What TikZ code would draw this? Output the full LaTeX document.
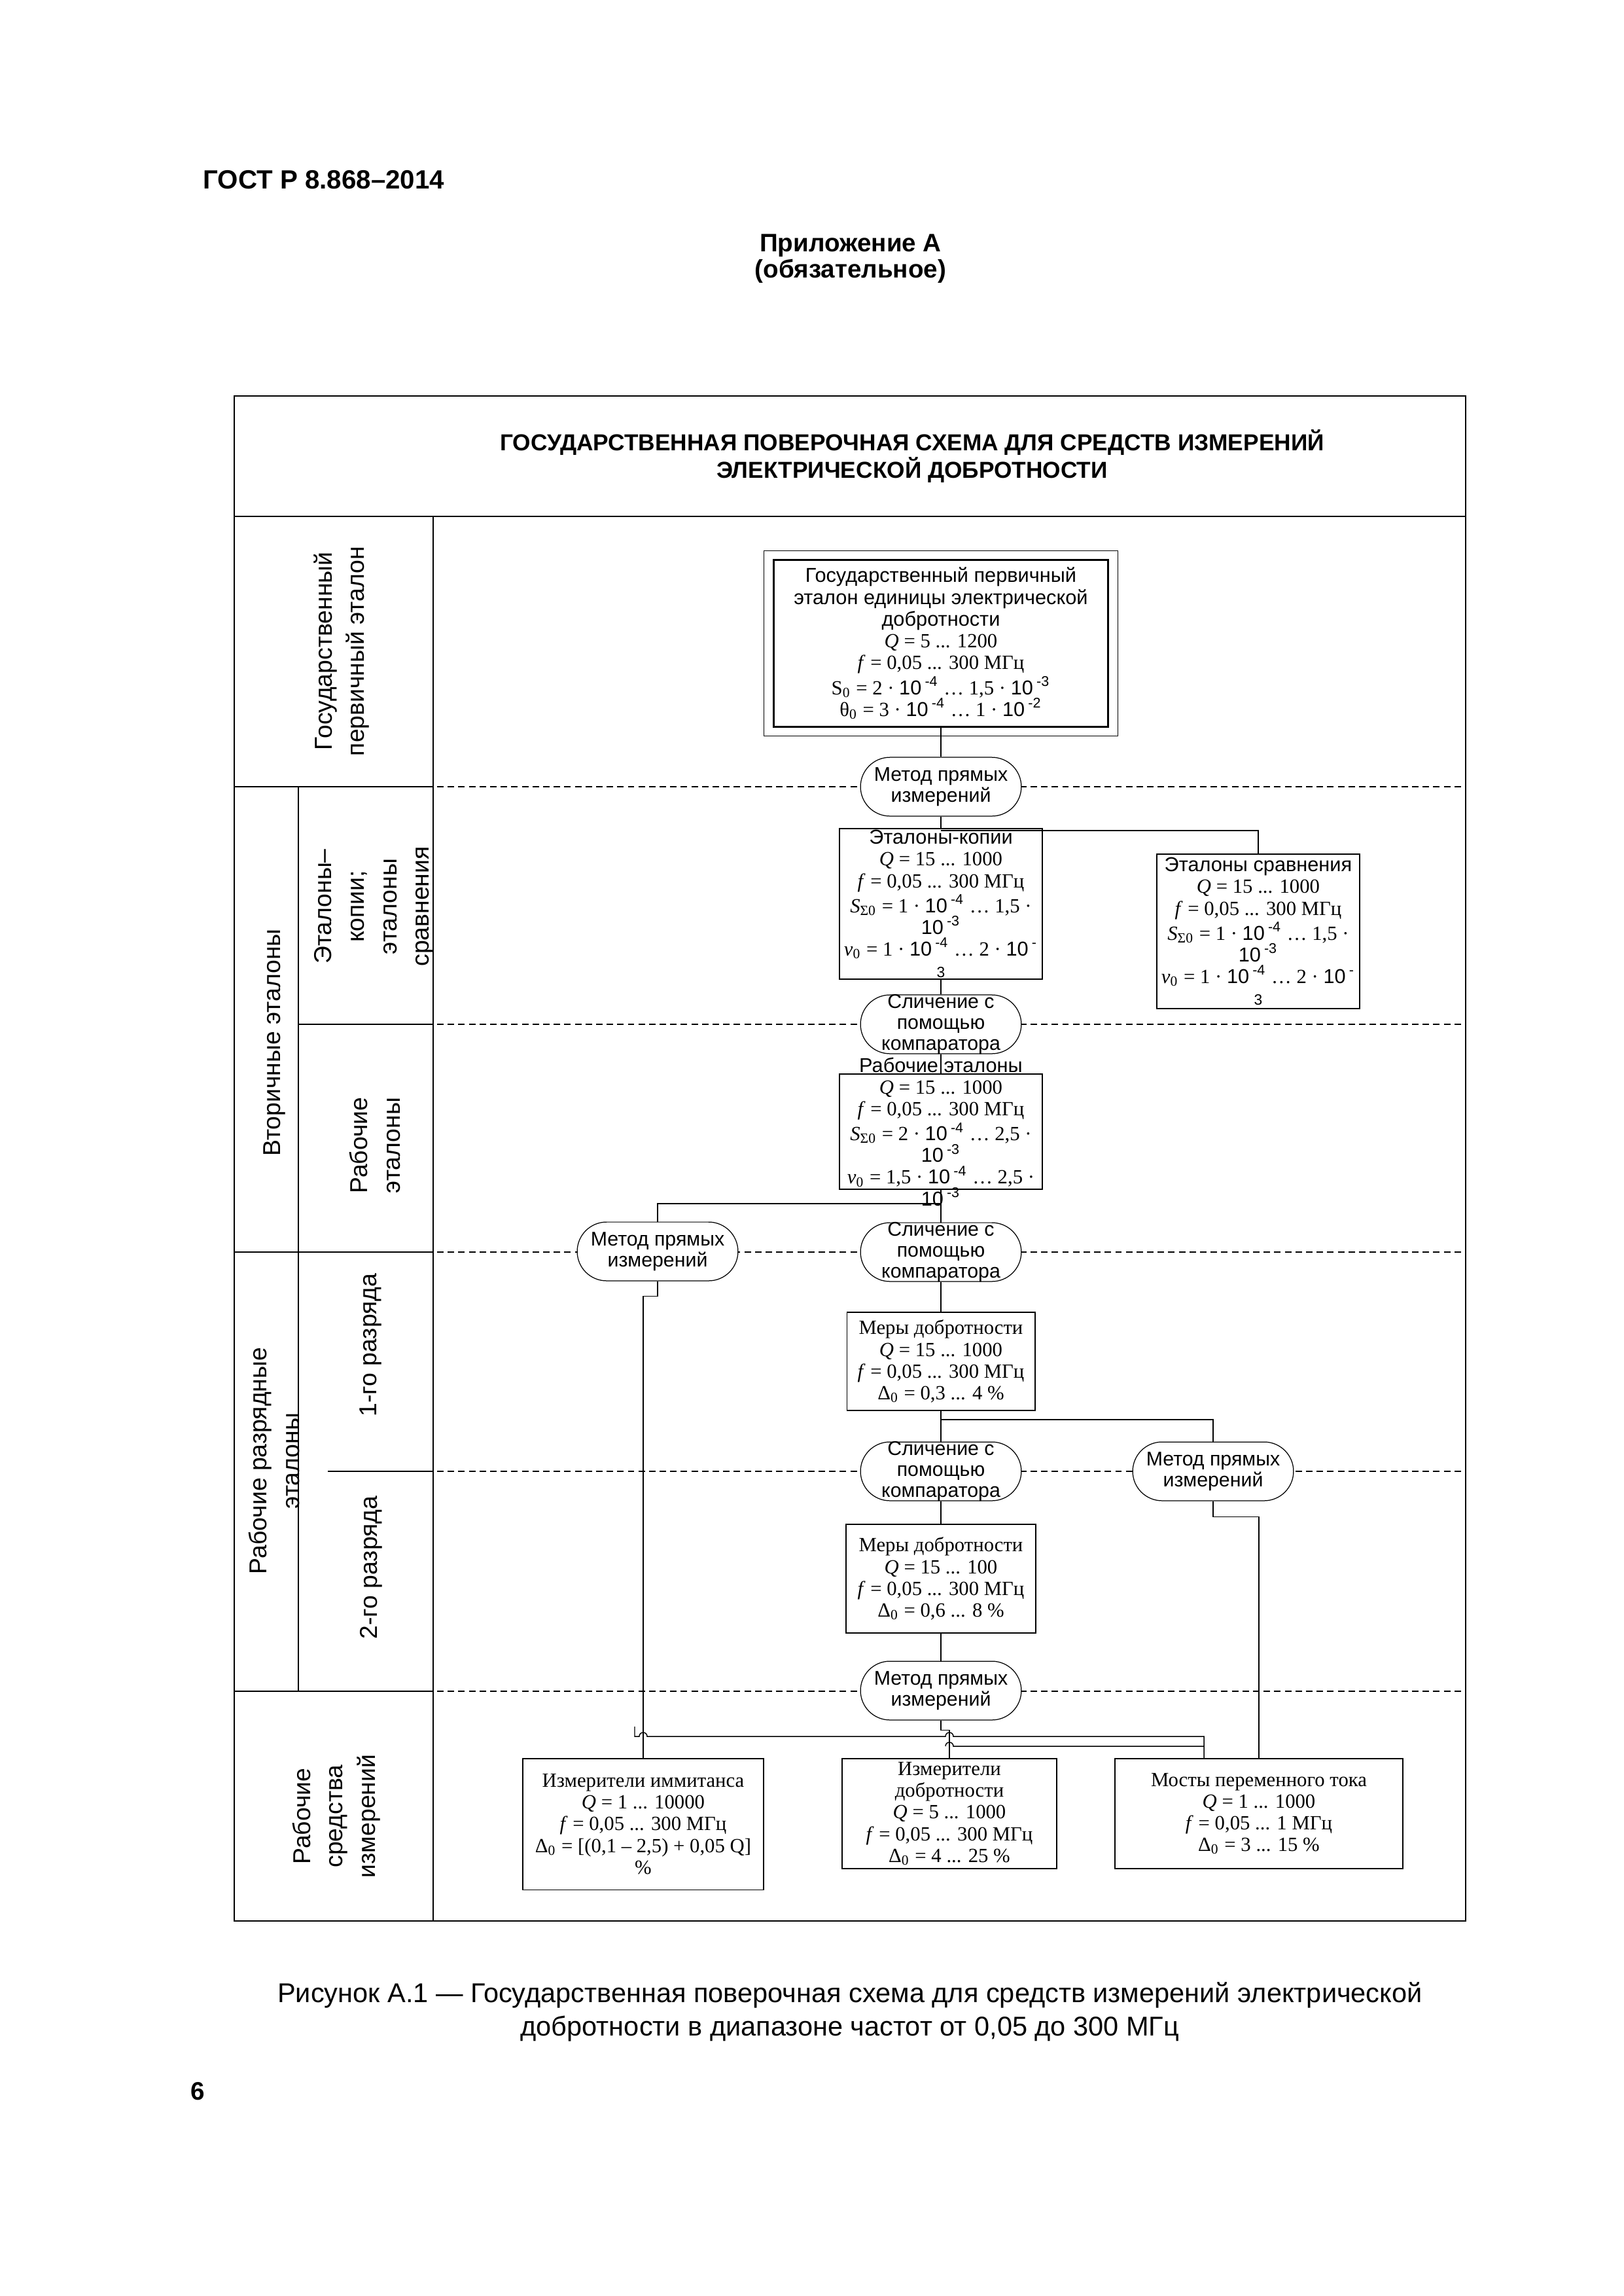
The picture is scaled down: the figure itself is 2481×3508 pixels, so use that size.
\documentclass[tikz,border=0pt]{standalone}
\usepackage{fontspec}
\setmainfont{Liberation Serif}
\setsansfont{Liberation Sans}

\newcommand\boxfont{\fontsize{7.4}{8}\selectfont}
\newcommand\ovalfont{\sffamily\fontsize{7.3}{7.8}\selectfont}
\newcommand\sidefont{\sffamily\fontsize{9}{12}\selectfont}
\newcommand\dec[1]{\textsf{10\,\textsuperscript{#1}}}
\newcommand\wrap[1]{{\sffamily\fontsize{5.5}{6}\selectfont #1}}

\begin{document}
\begin{tikzpicture}[
    x=0.08464mm, y=-0.08464mm,
    frm/.style={line width=0.6pt},
    lvl/.style={dash pattern=on 2.4pt off 1.5pt, line width=0.35pt},
    link/.style={line width=0.35pt},
    std/.style={draw, line width=0.45pt, fill=white, align=center, inner sep=-8mm, font=\boxfont},
    meth/.style={draw, line width=0.3pt, fill=white, rounded corners=3.8mm, align=center, inner sep=-8mm,
      minimum width=20.8mm, minimum height=7.6mm, font=\ovalfont},
    side/.style={rotate=90, align=center, font=\sidefont},
    head/.style={font=\sffamily\bfseries\fontsize{9.3}{11}\selectfont},
  ]
  \useasboundingbox (0,0) rectangle (2481,3508);

  % page head
  \node[head, font=\sffamily\bfseries\fontsize{9.7}{11}\selectfont, anchor=base west] (gost) at (296,288) {ГОСТ Р 8.868–2014};
  \node[head, anchor=base] (app) at (1300,384) {Приложение А};
  \node[head, anchor=base] (appk) at (1300,424) {(обязательное)};

  % table
  \draw[frm] (358,605) rectangle (2240,2935);
  \draw[frm] (358,789) -- (2240,789);
  \draw[frm] (662,789) -- (662,2935);
  \draw[frm] (456,1202) -- (456,2584);
  \draw[frm] (358,1202) -- (662,1202);
  \draw[frm] (456,1565) -- (662,1565);
  \draw[frm] (358,1913) -- (662,1913);
  \draw[frm] (501,2248) -- (662,2248);
  \draw[frm] (358,2584) -- (662,2584);
  \foreach \yy in {1202,1565,1913,2248,2584}
    \draw[lvl] (668,\yy) -- (2240,\yy);

  \node[font=\sffamily\bfseries\fontsize{8.5}{10}\selectfont, align=center] (title) at (1394,697)
    {ГОСУДАРСТВЕННАЯ ПОВЕРОЧНАЯ СХЕМА ДЛЯ СРЕДСТВ ИЗМЕРЕНИЙ\\ЭЛЕКТРИЧЕСКОЙ ДОБРОТНОСТИ};

  % left column
  \node[side] (lgos) at (522,995) {Государственный\\первичный эталон};
  \node[side] (lvtor) at (420,1593) {Вторичные эталоны};
  \node[side] (lkop) at (572,1385) {Эталоны–\\копии;\\эталоны\\сравнения};
  \node[side] (lrab) at (573,1750) {Рабочие\\эталоны};
  \node[side] (lrazr) at (419,2232) {Рабочие разрядные\\эталоны};
  \node[side] (lr1) at (567,2055) {1-го разряда};
  \node[side] (lr2) at (567,2395) {2-го разряда};
  \node[side] (lsi) at (514,2775) {Рабочие\\средства\\измерений};

  % standards
  \node[std, line width=0.3pt, minimum width=45.8mm, minimum height=24mm] (primo) at (1438,983) {};
  \node[std, line width=0.7pt, minimum width=43.2mm, minimum height=21.6mm] (prim) at (1438,983)
    {\textsf{Государственный первичный}\\\textsf{эталон единицы электрической}\\\textsf{добротности}\\
     \textit{Q} = 5 ... 1200\\\textit{f} = 0,05 ... 300 МГц\\
     S\textsubscript{0} = 2 · \dec{-4} … 1,5 · \dec{-3}\\θ\textsubscript{0} = 3 · \dec{-4} … 1 · \dec{-2}};
  \node[meth] (m1) at (1438,1202) {Метод прямых\\измерений};
  \node[std, minimum width=26.3mm, minimum height=19.4mm] (kopii) at (1438,1381)
    {\textsf{Эталоны-копии}\\\textit{Q} = 15 ... 1000\\\textit{f} = 0,05 ... 300 МГц\\
     \textit{S}\textsubscript{Σ0} = 1 · \dec{-4} … 1,5 ·\\\dec{-3}\\
     \textit{v}\textsubscript{0} = 1 · \dec{-4} … 2 · \dec{-}\\\wrap{3}};
  \node[std, minimum width=26.3mm, minimum height=20mm] (sravn) at (1923,1423)
    {\textsf{Эталоны сравнения}\\\textit{Q} = 15 ... 1000\\\textit{f} = 0,05 ... 300 МГц\\
     \textit{S}\textsubscript{Σ0} = 1 · \dec{-4} … 1,5 ·\\\dec{-3}\\
     \textit{v}\textsubscript{0} = 1 · \dec{-4} … 2 · \dec{-}\\\wrap{3}};
  \node[meth] (c1) at (1438,1565) {Сличение с\\помощью\\компаратора};
  \node[std, minimum width=26.2mm, minimum height=14.9mm] (rabet) at (1438,1729)
    {\textsf{Рабочие эталоны}\\\textit{Q} = 15 ... 1000\\\textit{f} = 0,05 ... 300 МГц\\
     \textit{S}\textsubscript{Σ0} = 2 · \dec{-4} … 2,5 ·\\\dec{-3}\\
     \textit{v}\textsubscript{0} = 1,5 · \dec{-4} … 2,5 ·\\\dec{-3}};
  \node[meth] (m2) at (1005,1912) {Метод прямых\\измерений};
  \node[meth] (c2) at (1438,1913) {Сличение с\\помощью\\компаратора};
  \node[std, minimum width=24.3mm, minimum height=12.7mm] (mera1) at (1438,2080)
    {Меры добротности\\\textit{Q} = 15 ... 1000\\\textit{f} = 0,05 ... 300 МГц\\Δ\textsubscript{0} = 0,3 ... 4 \%};
  \node[meth] (c3) at (1438,2248) {Сличение с\\помощью\\компаратора};
  \node[meth] (m3) at (1854,2248) {Метод прямых\\измерений};
  \node[std, minimum width=24.5mm, minimum height=14.1mm] (mera2) at (1438,2412)
    {Меры добротности\\\textit{Q} = 15 ... 100\\\textit{f} = 0,05 ... 300 МГц\\Δ\textsubscript{0} = 0,6 ... 8 \%};
  \node[meth] (m4) at (1438,2583) {Метод прямых\\измерений};

  % working instruments
  \node[std, minimum width=31.1mm, minimum height=17mm] (immit) at (983,2787)
    {Измерители иммитанса\\\textit{Q} = 1 ... 10000\\\textit{f} = 0,05 ... 300 МГц\\
     Δ\textsubscript{0} = [(0,1 – 2,5) + 0,05 Q]\\\%};
  \node[std, minimum width=27.8mm, minimum height=14.2mm] (izmdob) at (1451,2771)
    {Измерители\\добротности\\\textit{Q} = 5 ... 1000\\\textit{f} = 0,05 ... 300 МГц\\Δ\textsubscript{0} = 4 ... 25 \%};
  \node[std, minimum width=37.3mm, minimum height=14.2mm] (mosty) at (1924,2771)
    {Мосты переменного тока\\\textit{Q} = 1 ... 1000\\\textit{f} = 0,05 ... 1 МГц\\Δ\textsubscript{0} = 3 ... 15 \%};

  % links
  \coordinate (kb) at (1438,1269);
  \coordinate (rb) at (1438,1839);
  \coordinate (mb) at (1438,2169);
  \coordinate (mt) at (1840,2687);
  \coordinate (hopa) at (1840,2653);
  \coordinate (hopb) at (1840,2668);
  \coordinate (tk) at (970,2638);
  \draw[link] (prim.south) -- (m1.north);
  \draw[link] (m1.south) -- (kopii.north);
  \draw[link] (kb) -| (sravn.north);
  \draw[link] (kopii.south) -- (c1.north);
  \draw[link] (c1.south) -- (rabet.north);
  \draw[link] (rabet.south) -- (c2.north);
  \draw[link] (rb) -| (m2.north);
  \draw[link] (c2.south) -- (mera1.north);
  \draw[link] (mera1.south) -- (c3.north);
  \draw[link] (mb) -| (m3.north);
  \draw[link] (c3.south) -- (mera2.north);
  \draw[link] (mera2.south) -- (m4.north);
  \draw[link] (m4.south) -- ++(0,15) -| (izmdob.north);
  \draw[link] (m2.south) -- ++(0,23) -| (immit.north);
  \draw[link] (m3.south) -- ++(0,24) -| (mosty.north);
  \draw[link] (mt) |- ([xshift=1.45pt]izmdob.north |- hopa) arc[start angle=0, end angle=180, radius=1.45pt]
    -- ([xshift=1.45pt]immit.north |- hopa) arc[start angle=0, end angle=180, radius=1.45pt] -| (tk);
  \draw[link] (hopb) -- ([xshift=1.45pt]izmdob.north |- hopb) arc[start angle=0, end angle=180, radius=1.45pt];

  % caption
  \node[font=\sffamily\fontsize{10}{12.3}\selectfont, align=center] (cap) at (1299,3074)
    {Рисунок А.1 — Государственная поверочная схема для средств измерений электрической\\добротности в диапазоне частот от 0,05 до 300 МГц};
  \node[head] (pg) at (302,3195) {6};
\end{tikzpicture}
\end{document}
